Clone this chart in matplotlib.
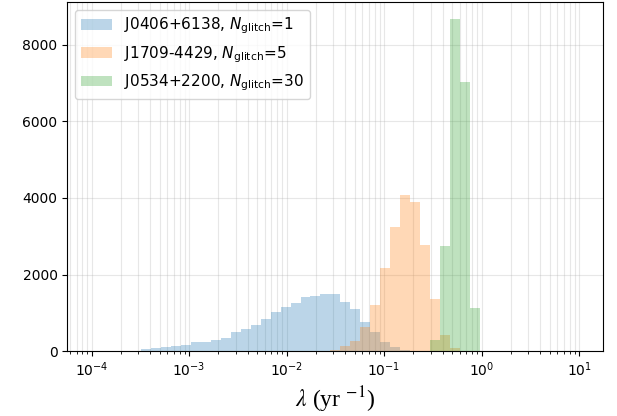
import matplotlib
matplotlib.use('Agg')
import matplotlib.pyplot as plt
import numpy as np

# shared log-spaced bins, 1e-4 .. 10 yr^-1
bin_edges = np.logspace(-4, 1, 50)

labels = [r'J0406+6138, $N_{\rm glitch}$=1',
          r'J1709-4429, $N_{\rm glitch}$=5',
          r'J0534+2200, $N_{\rm glitch}$=30']

# counts per bin (49 bins)
counts_j0406 = [0, 0, 0, 0, 0, 55, 90, 115, 140, 170,
                225, 250, 300, 350, 505, 585, 690, 845, 1025, 1160,
                1265, 1420, 1445, 1495, 1495, 1290, 1105, 765, 505, 245,
                112, 25, 5, 0, 0, 0, 0, 0, 0, 0,
                0, 0, 0, 0, 0, 0, 0, 0, 0]
counts_j1709 = [0, 0, 0, 0, 0, 0, 0, 0, 0, 0,
                0, 0, 0, 0, 0, 0, 0, 0, 0, 0,
                0, 0, 0, 5, 20, 135, 261, 630, 1201, 2175,
                3238, 4073, 3890, 2768, 1358, 425, 70, 5, 0, 0,
                0, 0, 0, 0, 0, 0, 0, 0, 0]
counts_j0534 = [0, 0, 0, 0, 0, 0, 0, 0, 0, 0,
                0, 0, 0, 0, 0, 0, 0, 0, 0, 0,
                0, 0, 0, 0, 0, 0, 0, 0, 0, 0,
                0, 0, 0, 0, 290, 2750, 8680, 7030, 1130, 0,
                0, 0, 0, 0, 0, 0, 0, 0, 0]

centers = np.sqrt(bin_edges[:-1] * bin_edges[1:])

fig, ax = plt.subplots(figsize=(6.17, 4.16), dpi=100)
fig.subplots_adjust(left=0.109, right=0.978, top=0.995, bottom=0.156)

for counts, label in zip([counts_j0406, counts_j1709, counts_j0534], labels):
    ax.hist(centers, bins=bin_edges, weights=counts, alpha=0.3, label=label)

ax.set_xscale('log')
ax.grid(which='both', alpha=0.3)
ax.set_axisbelow(True)
ax.legend(loc='upper left', fontsize=11)
ax.set_xlabel(r'$\lambda$ (yr $^{-1}$)', fontsize=17,
              family='Liberation Serif', math_fontfamily='stix')

plt.savefig('out.png', dpi=100, facecolor='white')
plt.close()
